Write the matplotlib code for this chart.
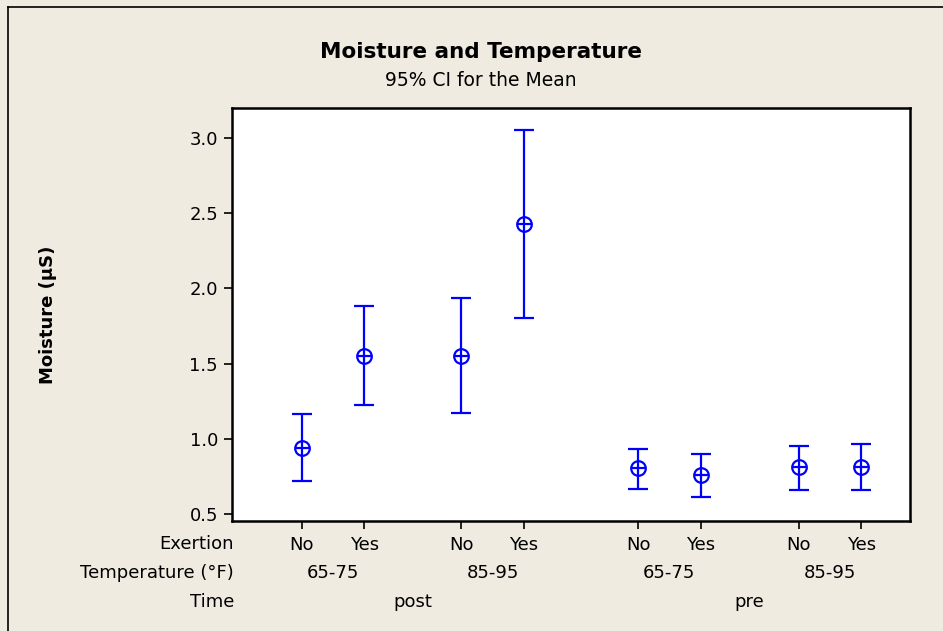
import matplotlib
matplotlib.use("Agg")
import matplotlib.pyplot as plt
import matplotlib.transforms as mtransforms
from matplotlib.lines import Line2D

# interval plot: mean with 95% CI per Time x Temperature x Exertion cell
exertion = ["No", "Yes", "No", "Yes", "No", "Yes", "No", "Yes"]
temperature = ["65-75", "85-95", "65-75", "85-95"]
time_groups = ["post", "pre"]
means = [0.939, 1.550, 1.550, 2.428, 0.806, 0.759, 0.812, 0.812]
upper = [1.165, 1.883, 1.936, 3.053, 0.932, 0.899, 0.952, 0.965]
lower = [0.720, 1.225, 1.170, 1.803, 0.666, 0.613, 0.660, 0.660]

BG = "#efebe1"
BLUE = "#0000ff"
FS = 13

# Minitab-style spacing: pairs of exertion levels, wider gaps between groups
pos = [0.0, 1.0, 2.55, 3.55, 5.38, 6.38, 7.95, 8.95]

fig = plt.figure(figsize=(9.43, 6.31), dpi=100, facecolor=BG)
ax = fig.add_axes([0.246, 0.1743, 0.719, 0.6545])
ax.set_facecolor("white")

err_lo = [m - l for m, l in zip(means, lower)]
err_hi = [u - m for m, u in zip(means, upper)]
ax.errorbar(pos, means, yerr=[err_lo, err_hi], fmt="none", ecolor=BLUE,
            elinewidth=1.6, capsize=7.5, capthick=1.6)
ax.plot(pos, means, "o", ms=10.5, mfc="none", mec=BLUE, mew=1.6)
ax.plot(pos, means, "_", ms=10.5, color=BLUE, mew=1.6)

ax.set_xlim(-1.12, 9.73)
ax.set_ylim(0.453, 3.2)
ax.set_yticks([0.5, 1.0, 1.5, 2.0, 2.5, 3.0])
ax.set_yticklabels(["0.5", "1.0", "1.5", "2.0", "2.5", "3.0"])
ax.set_xticks(pos)
ax.set_xticklabels(exertion)
ax.tick_params(direction="out", length=6, width=1.2, labelsize=FS,
               colors="black", pad=4)
ax.tick_params(axis="x", pad=5)
for side in ax.spines.values():
    side.set_linewidth(1.8)
    side.set_color("black")

# lower label rows: temperature and time, plus row headings
trans = mtransforms.blended_transform_factory(ax.transData, fig.transFigure)
ftrans = fig.transFigure
row_y = [1 - 544 / 631, 1 - 573 / 631, 1 - 602 / 631]
for i, t in enumerate(temperature):
    x = (pos[2 * i] + pos[2 * i + 1]) / 2
    fig.text(x, row_y[1], t, transform=trans, ha="center", va="center",
             fontsize=FS)
for i, t in enumerate(time_groups):
    x = (pos[4 * i] + pos[4 * i + 3]) / 2
    fig.text(x, row_y[2], t, transform=trans, ha="center", va="center",
             fontsize=FS)
for y, name in zip(row_y, ["Exertion", "Temperature (°F)", "Time"]):
    fig.text(234 / 943, y, name, ha="right", va="center", fontsize=FS)

fig.text(481 / 943, 1 - 52 / 631, "Moisture and Temperature", ha="center",
         va="center", fontsize=15.5, fontweight="bold")
fig.text(481 / 943, 1 - 80 / 631, "95% CI for the Mean", ha="center",
         va="center", fontsize=13.5)
fig.text(48 / 943, 1 - 315 / 631, "Moisture (µS)", rotation=90, ha="center",
         va="center", fontsize=FS, fontweight="bold")

# frame lines along the top and left edge of the figure
fig.add_artist(Line2D([8 / 943, 8 / 943], [0, 1 - 7 / 631], transform=ftrans,
                      color="black", lw=1.2))
fig.add_artist(Line2D([8 / 943, 1], [1 - 7 / 631, 1 - 7 / 631], transform=ftrans,
                      color="black", lw=1.2))

fig.savefig("out.png", dpi=100, facecolor=BG)
